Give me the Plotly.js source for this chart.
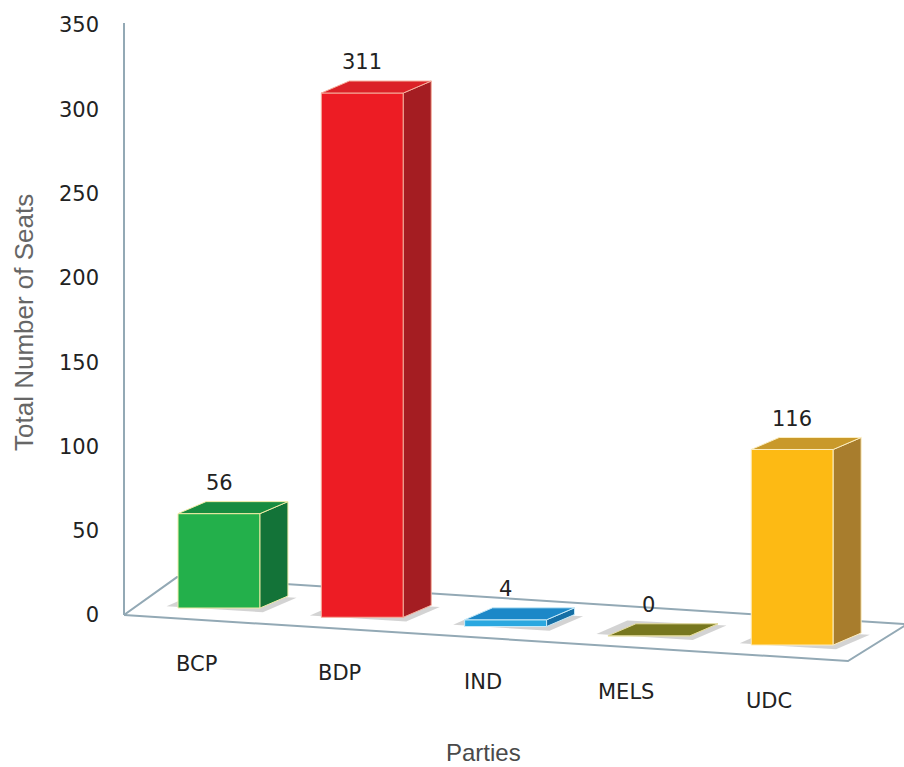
<!DOCTYPE html>
<html><head><meta charset="utf-8">
<script src="https://cdn.plot.ly/plotly-3.0.1.min.js"></script>
<style>html,body{margin:0;padding:0;background:#fff;}</style>
</head><body><div id="chart" style="width:904px;height:767px;"></div>
<script>
// ---- data ----
const categories = ['BCP', 'BDP', 'IND', 'MELS', 'UDC'];
const seats = [56, 311, 4, 0, 116];
const yTickValues = [0, 50, 100, 150, 200, 250, 300, 350];
const yTickLabels = ['0', '50', '100', '150', '200', '250', '300', '350'];

// ---- styles ----
const frontColors = ['#23B04B', '#ED1C24', '#2AA8E0', '#86862A', '#FDBA14'];
const topColors   = ['#188C40', '#DB2127', '#1C88C8', '#77771F', '#C9992A'];
const sideColors  = ['#137338', '#A41D22', '#166FA5', '#5E5E18', '#A87D2D'];
const edgeColors  = ['#F0EBA6', '#F6AE9C', '#C8EAF8', '#E6DDA0', '#FCEDBF'];

// ---- perspective geometry (in axis units) ----
const barWidth = 0.572;
const depthX = 0.195;
const depthY = 7.1;
const base0 = 4.15;
const baseStep = -5.49;

const xs = categories.map((c, i) => i);
const baselines = xs.map(i => base0 + baseStep * i);

const traces = [];
// side & top faces
xs.forEach(i => {
  const xl = i - barWidth / 2, xr = i + barWidth / 2;
  const b = baselines[i], t = baselines[i] + seats[i];
  traces.push({
    type: 'scatter', mode: 'lines', fill: 'toself',
    x: [xr, xr + depthX, xr + depthX, xr, xr],
    y: [b, b + depthY, t + depthY, t, b],
    fillcolor: sideColors[i], line: {color: edgeColors[i], width: 1},
    hoverinfo: 'skip', showlegend: false
  });
  traces.push({
    type: 'scatter', mode: 'lines', fill: 'toself',
    x: [xl, xr, xr + depthX, xl + depthX, xl],
    y: [t, t, t + depthY, t + depthY, t],
    fillcolor: topColors[i], line: {color: edgeColors[i], width: 1},
    hoverinfo: 'skip', showlegend: false
  });
});
// front faces
traces.unshift({
  type: 'bar', x: xs, y: seats, base: baselines, width: barWidth,
  marker: {color: frontColors, line: {color: edgeColors, width: 1}},
  hoverinfo: 'skip', showlegend: false
});

// floor (frame) and shadows
const floorColor = '#93A9B5';
const shapes = [
  {type: 'path', xref: 'x', yref: 'y', layer: 'below',
   path: 'M -0.663 0 L 4.389 -27.3 L 4.80 -5.5 L -0.293 22.5 Z',
   fillcolor: '#ffffff', line: {color: floorColor, width: 2}},
  {type: 'line', xref: 'paper', yref: 'y', x0: 0, x1: 0, y0: 0, y1: 351.2,
   line: {color: floorColor, width: 2}}
];
xs.forEach(i => {
  const xl = i - barWidth / 2, xr = i + barWidth / 2, b = baselines[i];
  shapes.push({type: 'path', xref: 'x', yref: 'y', layer: 'below',
    path: `M ${xl - 0.08} ${b + 1} L ${xr + 0.02} ${b - 2.5} L ${xr + depthX + 0.06} ${b + depthY - 1} L ${xl + depthX - 0.06} ${b + depthY + 2} Z`,
    fillcolor: 'rgba(130,130,130,0.35)', line: {width: 0}});
});

const annotations = [];
xs.forEach(i => {
  annotations.push({
    x: i, y: baselines[i] + seats[i] + depthY, xref: 'x', yref: 'y',
    text: String(seats[i]), showarrow: false, yanchor: 'bottom', yshift: 5,
    font: {family: 'DejaVu Sans', size: 21, color: '#222222'}
  });
  annotations.push({
    x: i - 0.16, y: baselines[i] - 33.2, xref: 'x', yref: 'y',
    text: categories[i], showarrow: false, yanchor: 'middle',
    font: {family: 'DejaVu Sans', size: 21, color: '#222222'}
  });
});
annotations.push({
  xref: 'paper', yref: 'paper', x: -0.1282, y: 0.592, textangle: -90,
  text: 'Total Number of Seats', showarrow: false, xanchor: 'center', yanchor: 'middle',
  font: {family: 'Liberation Sans', size: 26, color: '#666666'}
});
annotations.push({
  xref: 'paper', yref: 'paper', x: 0.4603, y: 0.0187,
  text: 'Parties', showarrow: false, xanchor: 'center', yanchor: 'middle',
  font: {family: 'Liberation Sans', size: 24, color: '#4A4A4A'}
});

const layout = {
  width: 904, height: 767, autosize: false,
  margin: {l: 124, r: 0, t: 17, b: 0},
  paper_bgcolor: '#ffffff', plot_bgcolor: '#ffffff',
  showlegend: false,
  xaxis: {range: [-0.663, 4.780], visible: false, fixedrange: true},
  yaxis: {range: [-90.17, 354.75], tickvals: yTickValues, ticktext: yTickLabels,
          showgrid: false, zeroline: false, showline: false, ticks: '',
          ticklabelstandoff: 24, fixedrange: true,
          tickfont: {family: 'DejaVu Sans', size: 21, color: '#222222'}},
  shapes: shapes, annotations: annotations
};
Plotly.newPlot('chart', traces, layout, {displayModeBar: false, staticPlot: true});
</script>
</body></html>
